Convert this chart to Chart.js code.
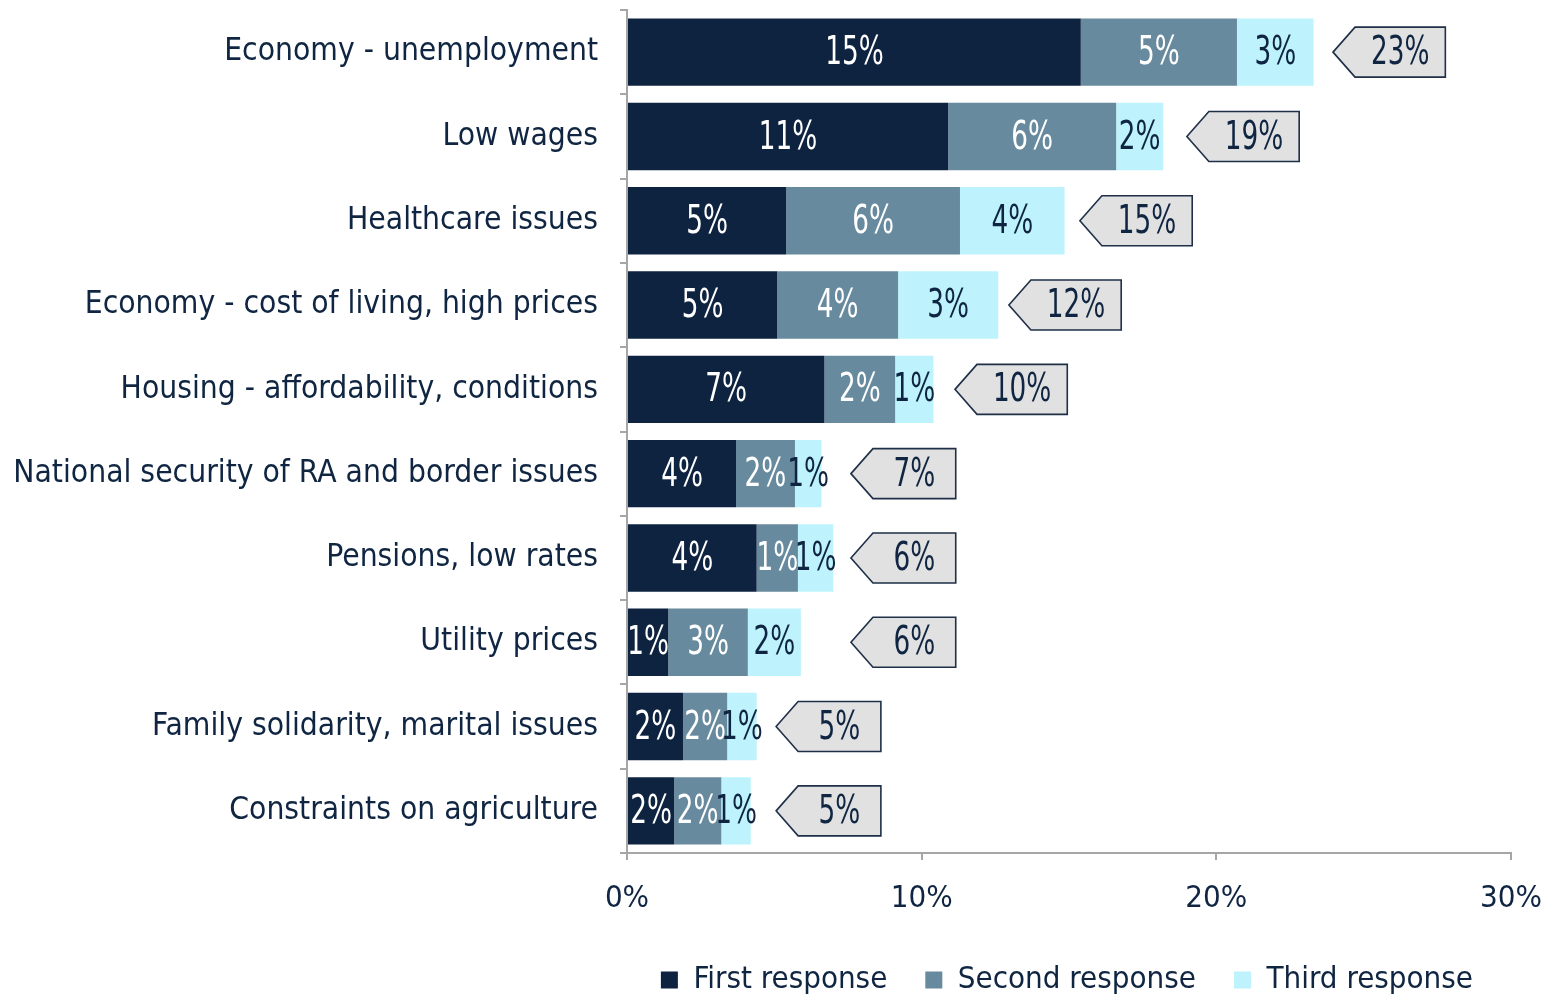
<!DOCTYPE html>
<html>
<head>
<meta charset="utf-8">
<script src="https://cdn.jsdelivr.net/npm/chart.js@4/dist/chart.umd.min.js"></script>
<style>
html,body{margin:0;padding:0;background:#ffffff;}
#wrap{width:1559px;height:996px;position:relative;}
</style>
</head>
<body>
<div id="wrap"><canvas id="c" width="1559" height="996"></canvas></div>
<script>
// ---- data ----
const categories = [
  "Economy - unemployment",
  "Low wages",
  "Healthcare issues",
  "Economy - cost of living, high prices",
  "Housing - affordability, conditions",
  "National security of RA and border issues",
  "Pensions, low rates",
  "Utility prices",
  "Family solidarity, marital issues",
  "Constraints on agriculture"
];
const seriesNames = ["First response", "Second response", "Third response"];
const firstResponse  = [15.4, 10.9, 5.4, 5.1, 6.7, 3.7, 4.4, 1.4, 1.9, 1.6];
const secondResponse = [5.3, 5.7, 5.9, 4.1, 2.4, 2.0, 1.4, 2.7, 1.5, 1.6];
const thirdResponse  = [2.6, 1.6, 3.55, 3.4, 1.3, 0.9, 1.2, 1.8, 1.0, 1.0];
const totals = [23, 19, 15, 12, 10, 7, 6, 6, 5, 5];
const totalLabelAt = [23.96, 19.0, 15.37, 12.96, 11.13, 7.6, 7.6, 7.6, 5.06, 5.06];
const xTickValues = [0, 10, 20, 30];

// ---- style ----
const FONT = "'DejaVu Sans Condensed', 'DejaVu Sans', sans-serif";
const NAVY = "#0f2541";
const COLORS = ["#0e2340", "#678a9e", "#bef3fd"];
const LABEL_COLORS = ["#ffffff", "#ffffff", NAVY];
const AXIS = "#a6a6a6";
const VALUE_SIZE = 39, VALUE_SX = 0.75;

function drawScaledText(ctx, text, x, y, size, color, sx) {
  ctx.save();
  ctx.font = size + "px " + FONT;
  ctx.fillStyle = color;
  ctx.textAlign = "center";
  ctx.textBaseline = "middle";
  ctx.translate(x, y);
  ctx.scale(sx, 1);
  ctx.fillText(text, 0, 2);
  ctx.restore();
}

const valueLabels = {
  id: "valueLabels",
  afterDatasetsDraw(chart) {
    const ctx = chart.ctx;
    chart.data.datasets.forEach((ds, di) => {
      const meta = chart.getDatasetMeta(di);
      meta.data.forEach((el, i) => {
        const v = ds.data[i];
        const cx = (el.x + el.base) / 2;
        drawScaledText(ctx, Math.round(v) + "%", cx, el.y, VALUE_SIZE, LABEL_COLORS[di], VALUE_SX);
      });
    });
    // total callouts
    const xs = chart.scales.x, ys = chart.scales.y;
    totals.forEach((t, i) => {
      const text = t + "%";
      ctx.save();
      ctx.font = VALUE_SIZE + "px " + FONT;
      const tw0 = ctx.measureText(text).width * VALUE_SX;
      ctx.restore();
      const tip = xs.getPixelForValue(totalLabelAt[i]);
      const yc = ys.getPixelForValue(i);
      const hh = 25, tw = 22, w = 86 + 0.45 * tw0;
      ctx.save();
      ctx.beginPath();
      ctx.moveTo(tip, yc);
      ctx.lineTo(tip + tw, yc - hh);
      ctx.lineTo(tip + w, yc - hh);
      ctx.lineTo(tip + w, yc + hh);
      ctx.lineTo(tip + tw, yc + hh);
      ctx.closePath();
      ctx.fillStyle = "#e1e1e1";
      ctx.fill();
      ctx.lineWidth = 1.6;
      ctx.strokeStyle = "#1e2f47";
      ctx.stroke();
      ctx.restore();
      drawScaledText(ctx, text, tip + (tw + w) / 2, yc, VALUE_SIZE, NAVY, VALUE_SX);
    });
  }
};

const seriesData = [firstResponse, secondResponse, thirdResponse];

new Chart(document.getElementById("c"), {
  type: "bar",
  data: {
    labels: categories,
    datasets: seriesData.map((d, i) => ({
      label: seriesNames[i],
      data: d,
      backgroundColor: COLORS[i],
      borderWidth: 0,
      categoryPercentage: 1.0,
      barPercentage: 0.8
    }))
  },
  options: {
    indexAxis: "y",
    responsive: false,
    animation: false,
    devicePixelRatio: 1,
    layout: { padding: { top: 10, right: 48, bottom: -9.5, left: 0 } },
    scales: {
      x: {
        stacked: true,
        min: 0,
        max: 30,
        afterBuildTicks: s => { s.ticks = xTickValues.map(v => ({ value: v })); },
        ticks: {
          callback: v => v + "%",
          color: NAVY,
          font: { family: FONT, size: 31 },
          padding: 20,
          maxRotation: 0
        },
        grid: { drawOnChartArea: false, drawTicks: true, tickLength: 7, color: AXIS, lineWidth: 2 },
        border: { display: true, color: AXIS, width: 2 },
        afterFit: s => { s.height = 73.5; s.paddingLeft = 0; s.paddingRight = 0; }
      },
      y: {
        stacked: true,
        ticks: {
          color: NAVY,
          font: { family: FONT, size: 31.5 },
          padding: 22,
          autoSkip: false
        },
        grid: { drawOnChartArea: false, drawTicks: true, tickLength: 7, color: AXIS, lineWidth: 2, offset: true },
        border: { display: true, color: AXIS, width: 2 },
        afterFit: s => { s.width = 627; s.paddingTop = 0; s.paddingBottom = 0; }
      }
    },
    plugins: {
      legend: {
        position: "bottom",
        align: "end",
        labels: {
          color: NAVY,
          font: { family: FONT, size: 31 },
          boxWidth: 17,
          boxHeight: 17,
          padding: 38
        }
      },
      tooltip: { enabled: false }
    }
  },
  plugins: [valueLabels]
});
</script>
</body>
</html>
